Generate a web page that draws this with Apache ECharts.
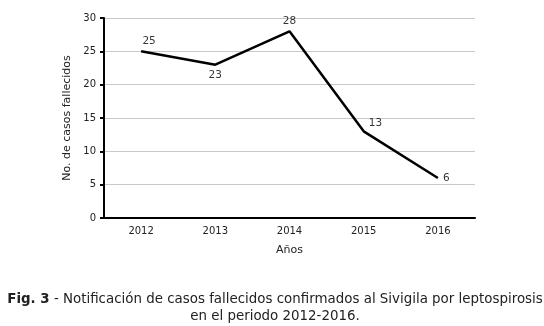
<!DOCTYPE html>
<html><head><meta charset="utf-8">
<script src="https://cdn.jsdelivr.net/npm/echarts@6/dist/echarts.min.js"></script>
<style>html,body{margin:0;padding:0;background:#fff}#c{width:544px;height:326px}</style>
</head><body><div id="c"></div>
<script>
const years = ['2012','2013','2014','2015','2016'];
const deaths = [25, 23, 28, 13, 6];
const labelPos = ['top', 'bottom', 'top', 'right', 'right'];
const labelOff = [[8,0],[0,0],[0,0],[0,-8],[0,0]];
const yTicks = [0,5,10,15,20,25,30];

const chart = echarts.init(document.getElementById('c'));
const font = 'DejaVu Sans, Verdana, sans-serif';
chart.setOption({
  animation: false,
  backgroundColor: '#fff',
  textStyle: {fontFamily: font},
  title: {
    left: 270, top: 286, textAlign: 'center',
    text: '{b|Fig. 3} - Notificación de casos fallecidos confirmados al Sivigila por leptospirosis\nen el periodo 2012-2016.',
    textStyle: {
      fontFamily: font, fontSize: 13.4, fontWeight: 'normal', color: '#222', lineHeight: 17, align: 'center',
      rich: {b: {fontFamily: font, fontSize: 13.4, fontWeight: 'bold', color: '#222'}}
    }
  },
  grid: {left: 104, right: 69, top: 18, bottom: 108},
  xAxis: {
    type: 'category', data: years, boundaryGap: true,
    name: 'Años', nameLocation: 'middle', nameGap: 27,
    nameTextStyle: {fontFamily: font, fontSize: 11, color: '#222'},
    axisLine: {lineStyle: {color: '#000', width: 2}},
    axisTick: {show: false},
    axisLabel: {fontFamily: font, fontSize: 10, color: '#222', margin: 8}
  },
  yAxis: {
    type: 'value', min: yTicks[0], max: yTicks[yTicks.length-1], interval: 5,
    name: 'No. de casos fallecidos', nameLocation: 'middle', nameGap: 29,
    nameTextStyle: {fontFamily: font, fontSize: 11, color: '#222'},
    axisLine: {show: true, lineStyle: {color: '#000', width: 2}},
    axisTick: {show: true, length: 4, lineStyle: {color: '#000', width: 2}},
    axisLabel: {fontFamily: font, fontSize: 10, color: '#222', margin: 8},
    splitLine: {lineStyle: {color: '#c8c8c8', width: 1}}
  },
  series: [{
    type: 'line', data: deaths,
    showSymbol: false, symbol: 'none',
    lineStyle: {color: '#000', width: 2.5},
    label: {show: false}
  }, {
    type: 'scatter', data: deaths.map((v, i) => ({
      value: v,
      label: {position: labelPos[i], offset: labelOff[i]}
    })),
    symbol: 'circle', symbolSize: 2,
    itemStyle: {color: 'rgba(0,0,0,0)'},
    label: {show: true, fontFamily: font, fontSize: 10.5, color: '#000', distance: 4},
    z: 3
  }]
});
</script></body></html>
